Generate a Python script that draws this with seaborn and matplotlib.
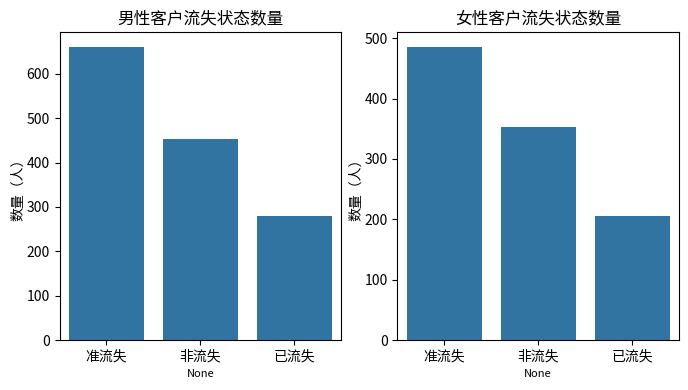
import matplotlib
matplotlib.use("Agg")
import matplotlib.pyplot as plt
import seaborn as sns
import pandas as pd

# 数据
status = ["准流失", "非流失", "已流失"]
male_counts = [661, 452, 279]
female_counts = [486, 353, 205]

plt.rcParams['font.family'] = ['Noto Sans CJK SC', 'DejaVu Sans']
plt.rcParams['axes.unicode_minus'] = False

fig, axes = plt.subplots(1, 2, figsize=(6.88, 3.9), dpi=100)

for ax, counts, title in zip(axes, [male_counts, female_counts],
                             ["男性客户流失状态数量", "女性客户流失状态数量"]):
    df = pd.DataFrame({"status": status, "count": counts})
    sns.barplot(data=df, x="status", y="count", ax=ax)
    ax.set_title(title, fontsize=12)
    ax.set_xlabel("None", fontsize=8)
    ax.set_ylabel("数量（人）", fontsize=10, labelpad=1)
    ax.tick_params(labelsize=10)

fig.subplots_adjust(left=0.0865, right=0.987, top=0.918, bottom=0.128, wspace=0.199)
plt.savefig("out.png", dpi=100)
